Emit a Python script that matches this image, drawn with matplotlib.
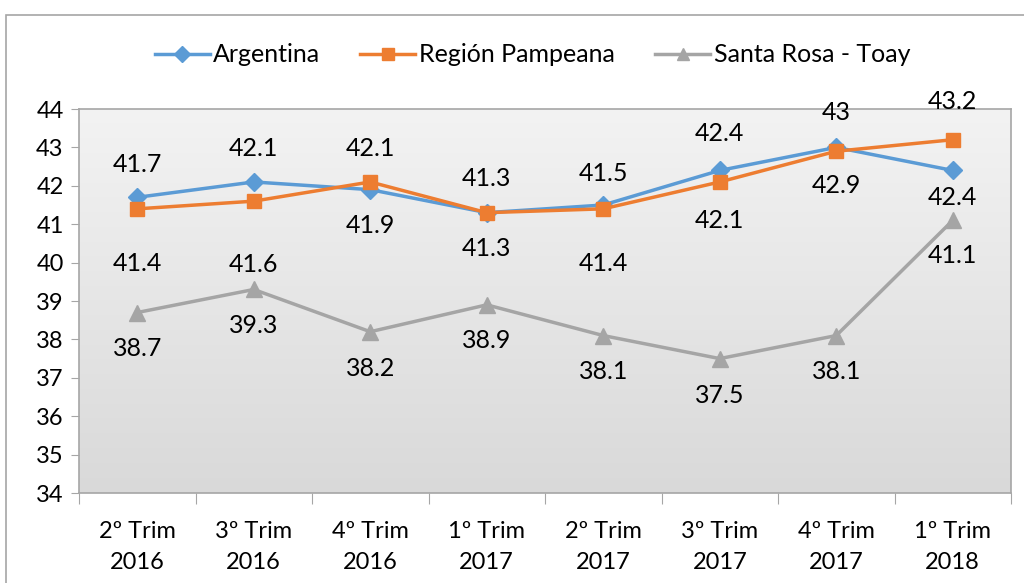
import numpy as np
import matplotlib.pyplot as plt
from matplotlib.patches import Rectangle

# data
categories = ["2º Trim\n2016", "3º Trim\n2016", "4º Trim\n2016", "1º Trim\n2017",
              "2º Trim\n2017", "3º Trim\n2017", "4º Trim\n2017", "1º Trim\n2018"]
argentina = [41.7, 42.1, 41.9, 41.3, 41.5, 42.4, 43.0, 42.4]
pampeana = [41.4, 41.6, 42.1, 41.3, 41.4, 42.1, 42.9, 43.2]
santa_rosa = [38.7, 39.3, 38.2, 38.9, 38.1, 37.5, 38.1, 41.1]

# label offsets in pixels (positive = above the point)
off_arg = [33, 33, -36, 34, 32, 37, 35, -27]
off_pam = [-55, -63, 33, -36, -55, -39, -34, 38]
off_sr = [-36, -36, -37, -36, -36, -37, -36, -35]

plt.rcParams['font.family'] = ['Lato', 'DejaVu Sans']

fig = plt.figure(figsize=(10.24, 5.83), dpi=100)
ax = fig.add_axes([79/1024, 1 - 493/583, (1011-79)/1024, (493-109)/583])

# outer chart border
fig.patches.append(Rectangle((6/1024, -0.05), 1.1, 1 - 15/583 + 0.05,
                             transform=fig.transFigure, fill=False,
                             edgecolor='#a6a6a6', linewidth=1.2))

# gradient plot area
grad = np.linspace(0, 1, 256).reshape(-1, 1)
ax.imshow(grad, extent=[0, 1, 0, 1], transform=ax.transAxes, aspect='auto',
          cmap=plt.matplotlib.colors.LinearSegmentedColormap.from_list(
              'g', ['#f3f3f3', '#d9d9d9']), zorder=0)

x = np.arange(len(categories))
series = [
    (argentina, off_arg, '#5B9BD5', 'D', 9, 'Argentina'),
    (pampeana, off_pam, '#ED7D31', 's', 10, 'Región Pampeana'),
    (santa_rosa, off_sr, '#A5A5A5', '^', 11, 'Santa Rosa - Toay'),
]
for vals, offs, col, mk, ms, name in series:
    ax.plot(x, vals, color=col, marker=mk, markersize=ms, linewidth=2.5,
            label=name, zorder=3)
    for xi, v, o in zip(x, vals, offs):
        ax.annotate(f"{v:g}", (xi, v), xytext=(0, o), textcoords='offset pixels',
                    ha='center', va='center', fontsize=18, color='black', zorder=4)

ax.set_xlim(-0.5, 7.5)
ax.set_ylim(34, 44)
ax.set_yticks(range(34, 45))
ax.tick_params(axis='y', labelsize=17, length=6, color='#a6a6a6', pad=5)
ax.set_xticks(np.arange(-0.5, 8, 1))
ax.set_xticklabels([])
ax.set_xticks(x, minor=True)
ax.set_xticklabels(categories, minor=True, fontsize=17, linespacing=1.6)
ax.tick_params(axis='x', which='major', length=8, color='#a6a6a6')
ax.tick_params(axis='x', which='minor', length=0, pad=20)
for s in ax.spines.values():
    s.set_color('#a6a6a6')
    s.set_linewidth(1.2)

fig.legend(loc='center', bbox_to_anchor=(0.52, 1 - 55/583), ncol=3, frameon=False,
           fontsize=18, handlelength=2.2, columnspacing=1.6, handletextpad=0.15,
           markerscale=0.85)

fig.savefig('out.png', dpi=100)
